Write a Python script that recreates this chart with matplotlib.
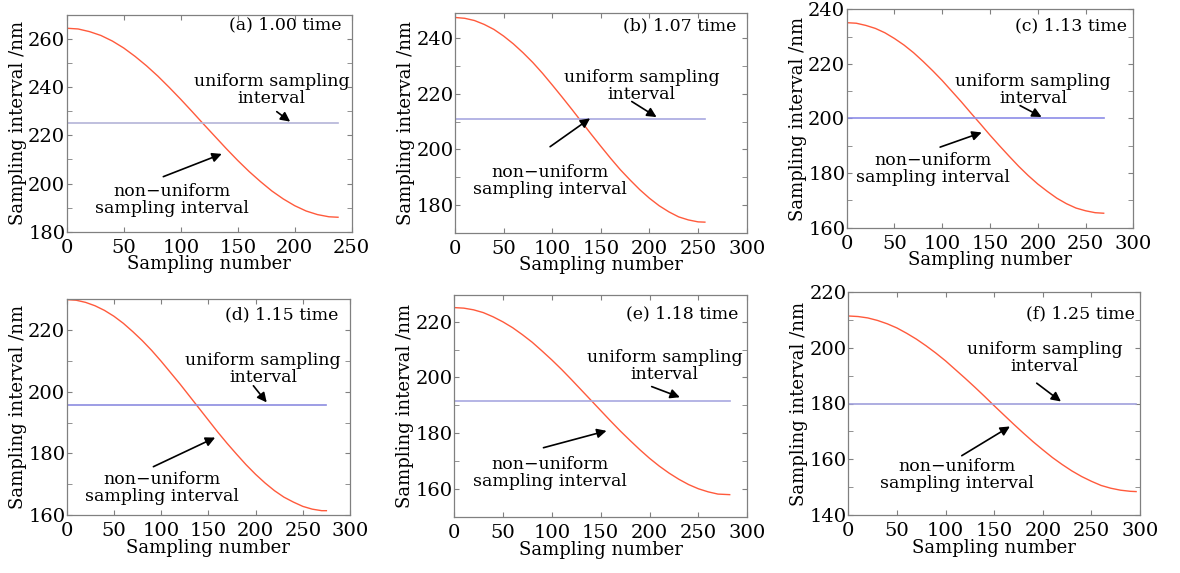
import numpy as np
import matplotlib
matplotlib.use("Agg")
import matplotlib.pyplot as plt
from matplotlib.ticker import MultipleLocator

plt.rcParams["font.family"] = ["DejaVu Serif"]
plt.rcParams["font.size"] = 12.5

# values, one set per panel
x_a = [0, 10, 20, 30, 40, 50, 60, 70, 80, 90, 100, 110, 120, 130, 140, 150, 160,
       170, 180, 190, 200, 210, 220, 230, 238]
y_a = [264.5, 264.2, 263.1, 261.5, 259.2, 256.3, 252.8, 248.9, 244.6, 239.9, 235.0, 229.9,
       224.7, 219.6, 214.5, 209.6, 205.0, 200.8, 196.9, 193.6, 190.8, 188.6, 187.1, 186.2, 186.0]
u_a = 225.0

x_b = [0, 10, 20, 30, 40, 50, 60, 70, 80, 90, 100, 110, 120, 130, 140, 150, 160,
       170, 180, 190, 200, 210, 220, 230, 240, 250, 257]
y_b = [247.5, 247.2, 246.4, 245.0, 243.2, 240.8, 238.0, 234.8, 231.3, 227.4, 223.2, 218.9,
       214.5, 210.0, 205.5, 201.1, 196.8, 192.7, 189.0, 185.5, 182.4, 179.7, 177.5, 175.7,
       174.6, 173.9, 173.8]
u_b = 210.8

x_c = [0, 10, 20, 30, 40, 50, 60, 70, 80, 90, 100, 110, 120, 130, 140, 150, 160,
       170, 180, 190, 200, 210, 220, 230, 240, 250, 260, 269]
y_c = [235.1, 234.9, 234.1, 233.0, 231.4, 229.3, 226.9, 224.1, 220.9, 217.5, 213.9, 210.0,
       206.1, 202.0, 198.0, 193.9, 190.0, 186.2, 182.5, 179.1, 176.0, 173.3, 170.8, 168.8,
       167.2, 166.2, 165.5, 165.3]
u_c = 200.0

x_d = [0, 10, 20, 30, 40, 50, 60, 70, 80, 90, 100, 110, 120, 130, 140, 150, 160,
       170, 180, 190, 200, 210, 220, 230, 240, 250, 260, 270, 275]
y_d = [229.9, 229.7, 229.0, 227.9, 226.4, 224.5, 222.2, 219.5, 216.6, 213.4, 209.9, 206.2,
       202.5, 198.6, 194.7, 190.8, 186.9, 183.2, 179.7, 176.3, 173.2, 170.4, 167.9, 165.8,
       164.2, 162.8, 161.9, 161.4, 161.4]
u_d = 195.7

x_e = [0, 10, 20, 30, 40, 50, 60, 70, 80, 90, 100, 110, 120, 130, 140, 150, 160,
       170, 180, 190, 200, 210, 220, 230, 240, 250, 260, 270, 282]
y_e = [225.0, 224.8, 224.2, 223.2, 221.7, 219.9, 217.8, 215.3, 212.6, 209.5, 206.3, 202.9,
       199.3, 195.6, 191.9, 188.2, 184.5, 180.9, 177.5, 174.2, 171.1, 168.3, 165.8, 163.6,
       161.7, 160.2, 159.1, 158.3, 158.1]
u_e = 191.6

x_f = [0, 10, 20, 30, 40, 50, 60, 70, 80, 90, 100, 110, 120, 130, 140, 150, 160,
       170, 180, 190, 200, 210, 220, 230, 240, 250, 260, 270, 280, 290, 296]
y_f = [211.4, 211.2, 210.7, 209.8, 208.6, 207.1, 205.2, 203.1, 200.7, 198.1, 195.3, 192.2,
       189.1, 185.9, 182.6, 179.2, 175.9, 172.6, 169.4, 166.3, 163.4, 160.6, 158.1, 155.8,
       153.8, 152.1, 150.6, 149.6, 148.9, 148.5, 148.4]
u_f = 180.0

panel_labels = ["(a) 1.00 time", "(b) 1.07 time", "(c) 1.13 time",
                "(d) 1.15 time", "(e) 1.18 time", "(f) 1.25 time"]
xs = [x_a, x_b, x_c, x_d, x_e, x_f]
ys = [y_a, y_b, y_c, y_d, y_e, y_f]
us = [u_a, u_b, u_c, u_d, u_e, u_f]
xlims = [(0, 250), (0, 300), (0, 300), (0, 300), (0, 300), (0, 300)]
ylims = [(180, 270), (170, 249), (160, 240), (160, 230), (150, 229.5), (140, 220)]

# axes boxes in pixels: left, right, top, bottom
boxes = [(66.7, 351.7, 15, 231.7), (455, 746.7, 13.3, 232.7), (846.7, 1133.3, 9.3, 227.7),
         (66.7, 350, 299.3, 515), (454, 747.3, 295, 517.3), (848.3, 1140, 292, 515)]

# annotation layout in axes fractions
lab_pos = [(0.965, 0.954), (0.966, 0.942), (0.977, 0.926), (0.959, 0.927), (0.969, 0.913), (0.983, 0.901)]
uni_txt = [(0.719, 0.652), (0.64, 0.667), (0.651, 0.631), (0.694, 0.677), (0.719, 0.682), (0.674, 0.704)]
uni_arr = [((0.737, 0.554), (0.784, 0.508)), ((0.606, 0.598), (0.691, 0.527)),
           ((0.605, 0.559), (0.680, 0.507)), ((0.659, 0.599), (0.706, 0.522)),
           ((0.674, 0.588), (0.770, 0.540)), ((0.646, 0.591), (0.729, 0.509))]
non_txt = [(0.368, 0.144), (0.326, 0.234), (0.302, 0.271), (0.335, 0.127), (0.327, 0.199), (0.371, 0.178)]
non_arr = [((0.339, 0.254), (0.544, 0.359)), ((0.326, 0.392), (0.463, 0.521)),
           ((0.326, 0.369), (0.471, 0.436)), ((0.306, 0.224), (0.524, 0.359)),
           ((0.305, 0.313), (0.520, 0.389)), ((0.389, 0.266), (0.554, 0.397))]
uni_colors = ["#b4b4d8", "#a8a8e0", "#8c8ce8", "#8c8ce0", "#a8a8e0", "#a0a0dc"]

W, H = 1180, 573
fig = plt.figure(figsize=(W / 100, H / 100), dpi=100)

for i in range(6):
    l, r, t, b = boxes[i]
    ax = fig.add_axes([l / W, (H - b) / H, (r - l) / W, (b - t) / H])
    ax.plot(xs[i], ys[i], color="#ff5a3c", lw=1.0)
    ax.plot([xs[i][0], xs[i][-1]], [us[i], us[i]], color=uni_colors[i], lw=1.2)
    ax.set_xlim(*xlims[i])
    ax.set_ylim(*ylims[i])
    ax.xaxis.set_major_locator(MultipleLocator(50))
    ax.yaxis.set_major_locator(MultipleLocator(20))
    ax.yaxis.set_minor_locator(MultipleLocator(10))
    ax.tick_params(which="both", direction="in", top=True, right=True, length=3.5,
                   color="#808080", labelsize=14)
    ax.tick_params(axis="x", pad=5)
    ax.tick_params(axis="y", pad=1)
    for s in ax.spines.values():
        s.set_color("#808080")
        s.set_linewidth(0.9)
    ax.set_xlabel("Sampling number", fontsize=13, labelpad=-1)
    ax.set_ylabel("Sampling interval /nm", fontsize=13, labelpad=1)

    ax.text(*lab_pos[i], panel_labels[i], transform=ax.transAxes, ha="right", va="center")
    ax.text(*uni_txt[i], "uniform sampling\ninterval", transform=ax.transAxes,
            ha="center", va="center", linespacing=1.0)
    ax.text(*non_txt[i], "non\u2212uniform\nsampling interval", transform=ax.transAxes,
            ha="center", va="center", linespacing=1.0)
    for tail, head in (uni_arr[i], non_arr[i]):
        ax.annotate("", xy=head, xytext=tail, xycoords="axes fraction", textcoords="axes fraction",
                    arrowprops=dict(arrowstyle="-|>", color="black", lw=1.2,
                                    mutation_scale=14, shrinkA=0, shrinkB=0))

fig.savefig("out.png", dpi=100, facecolor="white")
